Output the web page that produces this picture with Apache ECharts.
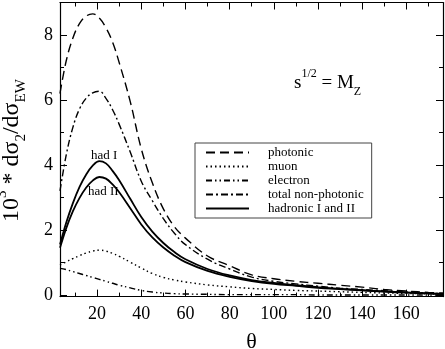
<!DOCTYPE html>
<html>
<head>
<meta charset="utf-8">
<script src="https://cdn.jsdelivr.net/npm/echarts@6/dist/echarts.min.js"></script>
<style>
  html, body { margin: 0; padding: 0; background: #fff; }
  #main { width: 445px; height: 349px; }
</style>
</head>
<body>
<div id="main"></div>
<script>
// scattering angle (degrees)
var theta = [3.2, 6, 9, 12, 15, 18, 21, 24, 27, 30, 35, 40, 45, 50, 55, 60, 70, 80, 90, 100, 110, 120, 130, 140, 150, 160, 170, 176.6];

// 10^3 * dsigma2/dsigmaEW
var photonic   = [6.2, 7.2, 7.9, 8.35, 8.58, 8.65, 8.52, 8.22, 7.78, 7.15, 5.95, 4.5, 3.45, 2.65, 2.1, 1.75, 1.2, 0.9, 0.62, 0.5, 0.42, 0.36, 0.3, 0.24, 0.17, 0.12, 0.08, 0.06];
var muon       = [0.92, 1.02, 1.12, 1.21, 1.29, 1.35, 1.38, 1.35, 1.28, 1.19, 1.01, 0.83, 0.66, 0.54, 0.46, 0.4, 0.31, 0.25, 0.2, 0.17, 0.14, 0.12, 0.1, 0.08, 0.06, 0.05, 0.03, 0.02];
var electron   = [0.82, 0.78, 0.72, 0.66, 0.6, 0.54, 0.48, 0.42, 0.36, 0.3, 0.22, 0.14, 0.09, 0.06, 0.04, 0.03, 0.02, 0.01, 0.01, 0.01, 0.01, 0, 0, 0, 0, 0, 0, 0];
var nonPhot    = [3.2, 4.3, 5.15, 5.72, 6.05, 6.22, 6.27, 6.05, 5.7, 5.25, 4.4, 3.5, 2.9, 2.35, 1.9, 1.55, 1.1, 0.8, 0.55, 0.42, 0.34, 0.27, 0.21, 0.17, 0.13, 0.09, 0.06, 0.04];
var hadronic1  = [1.55, 2.22, 2.82, 3.32, 3.7, 3.98, 4.12, 4.05, 3.82, 3.53, 2.96, 2.4, 1.95, 1.6, 1.32, 1.1, 0.8, 0.6, 0.46, 0.37, 0.3, 0.24, 0.19, 0.15, 0.11, 0.08, 0.05, 0.03];
var hadronic2  = [1.45, 2.05, 2.57, 2.98, 3.3, 3.52, 3.63, 3.58, 3.4, 3.16, 2.67, 2.17, 1.77, 1.46, 1.21, 1.01, 0.74, 0.56, 0.43, 0.34, 0.28, 0.22, 0.18, 0.14, 0.1, 0.07, 0.05, 0.03];

var xMajor = [20, 40, 60, 80, 100, 120, 140, 160];
var xMinor = [10, 30, 50, 70, 90, 110, 130, 150, 170];
var yMajor = [0, 2, 4, 6, 8];
var yMinor = [1, 3, 5, 7];

var serif = 'Liberation Serif';

function pairs(ys) {
    return theta.map(function (t, i) { return [t, ys[i]]; });
}

function line(name, ys, type, width) {
    return {
        name: name,
        type: 'line',
        data: pairs(ys),
        smooth: 0.4,
        showSymbol: false,
        symbol: 'none',
        clip: true,
        xAxisIndex: 0,
        yAxisIndex: 0,
        color: '#000',
        lineStyle: { color: '#000', width: width || 1.4, type: type }
    };
}

function xAx(grid, pos, ticks, len, labels, withLine) {
    return {
        type: 'value', gridIndex: grid, position: pos,
        min: 3.2, max: 176.6,
        splitLine: { show: false },
        axisLine: { show: withLine, onZero: false, lineStyle: { color: '#000', width: 1.2 } },
        axisTick: { show: true, inside: true, length: len, customValues: ticks, lineStyle: { color: '#000', width: 1 } },
        axisLabel: labels ? { show: true, customValues: xMajor, margin: 9, color: '#000', fontFamily: serif, fontSize: 18 } : { show: false }
    };
}

function yAx(grid, pos, ticks, len, labels, withLine) {
    return {
        type: 'value', gridIndex: grid, position: pos,
        min: -0.05, max: 9.0,
        splitLine: { show: false },
        axisLine: { show: withLine, onZero: false, lineStyle: { color: '#000', width: 1.2 } },
        axisTick: { show: true, inside: true, length: len, customValues: ticks, lineStyle: { color: '#000', width: 1 } },
        axisLabel: labels ? { show: true, customValues: yMajor, margin: 7, color: '#000', fontFamily: serif, fontSize: 18 } : { show: false }
    };
}

var chart = echarts.init(document.getElementById('main'));

var xMain = xAx(0, 'bottom', xMajor, 7, true, true);
xMain.name = 'θ';
xMain.nameLocation = 'middle';
xMain.nameGap = 35;
xMain.nameTextStyle = { color: '#000', fontFamily: serif, fontSize: 22 };

var yMain = yAx(0, 'left', yMajor, 7, true, true);
yMain.name = '{n|10}{sup|3}{n| * dσ}{sub|2}{n|/dσ}{sub|EW}';
yMain.nameLocation = 'middle';
yMain.nameGap = 31;
yMain.nameRotate = 90;
yMain.nameTextStyle = {
    color: '#000', fontFamily: serif, padding: [0, 2, 0, 0],
    rich: {
        n: { fontFamily: serif, fontSize: 24, color: '#000', lineHeight: 34, verticalAlign: 'middle' },
        sup: { fontFamily: serif, fontSize: 15, color: '#000', lineHeight: 16, verticalAlign: 'top' },
        sub: { fontFamily: serif, fontSize: 15, color: '#000', lineHeight: 16, verticalAlign: 'bottom' }
    }
};

var option = {
    backgroundColor: '#fff',
    animation: false,
    grid: [
        { left: 60, right: 2, top: 2.5, bottom: 52.4, outerBoundsMode: 'none', containLabel: false },
        { left: 60, right: 2, top: 2.5, bottom: 52.4, outerBoundsMode: 'none', containLabel: false }
    ],
    xAxis: [
        xMain,
        xAx(0, 'top', xMajor, 7, false, true),
        xAx(1, 'bottom', xMinor, 4, false, false),
        xAx(1, 'top', xMinor, 4, false, false)
    ],
    yAxis: [
        yMain,
        yAx(0, 'right', yMajor, 7, false, true),
        yAx(1, 'left', yMinor, 4, false, false),
        yAx(1, 'right', yMinor, 4, false, false)
    ],
    legend: {
        orient: 'vertical',
        left: 195,
        top: 143,
        padding: [3, 8, 3, 10],
        itemWidth: 43,
        itemHeight: 10,
        itemGap: 1,
        borderColor: '#444',
        borderWidth: 1,
        borderRadius: 0,
        backgroundColor: '#fff',
        selectedMode: false,
        itemStyle: { color: 'rgba(0,0,0,0)', borderWidth: 0, opacity: 0 },
        textStyle: { color: '#000', fontFamily: serif, fontSize: 13, lineHeight: 12, padding: [0, 0, 0, 14] },
        data: ['photonic', 'muon', 'electron', 'total non-photonic', 'hadronic I and II']
    },
    graphic: [
        {
            type: 'text', left: 294, top: 68,
            style: {
                text: '{n|s}{sup|1/2}{n| = M}{sub|Z}',
                rich: {
                    n: { fontFamily: serif, fontSize: 19, fill: '#000', lineHeight: 30, verticalAlign: 'middle' },
                    sup: { fontFamily: serif, fontSize: 12, fill: '#000', lineHeight: 14, verticalAlign: 'top' },
                    sub: { fontFamily: serif, fontSize: 12, fill: '#000', lineHeight: 14, verticalAlign: 'bottom' }
                }
            }
        },
        { type: 'text', left: 91, top: 149, style: { text: 'had I', fontFamily: serif, fontSize: 13, fill: '#000' } },
        { type: 'text', left: 88, top: 185, style: { text: 'had II', fontFamily: serif, fontSize: 13, fill: '#000' } }
    ],
    series: [
        line('photonic', photonic, [9, 5]),
        line('muon', muon, [1.5, 3]),
        line('electron', electron, [6, 3, 1.5, 3, 1.5, 3]),
        line('total non-photonic', nonPhot, [7, 3, 2, 3]),
        line('hadronic I and II', hadronic1, 'solid', 1.8),
        line('hadronic I and II', hadronic2, 'solid', 1.8)
    ]
};

chart.setOption(option);
</script>
</body>
</html>
